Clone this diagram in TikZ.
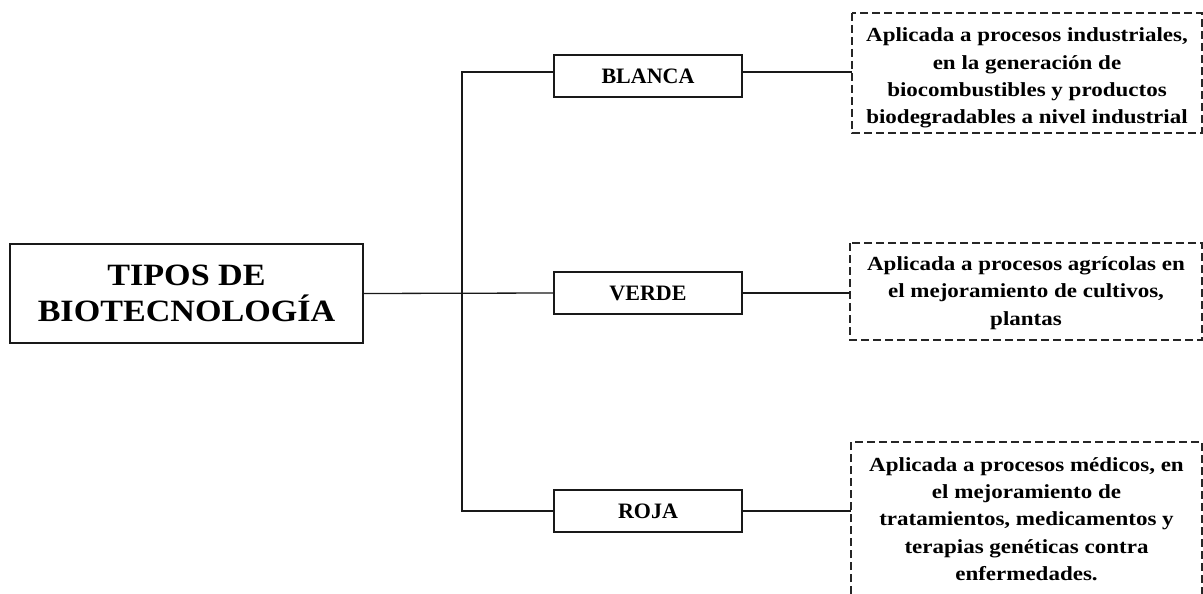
\documentclass[tikz,border=0pt]{standalone}
\usepackage{fontspec}
\setmainfont{Liberation Serif}
\newfontfamily\titlefont{Liberation Serif}[FakeStretch=1.1]
\newfontfamily\descfont{Liberation Serif}[FakeStretch=1.15]
\begin{document}
\begin{tikzpicture}[x=1pt,y=-1pt,
  mainbox/.style={draw=black!90, line width=1.3pt, minimum width=353pt, minimum height=99pt, align=center, inner sep=0pt, font=\titlefont\bfseries\fontsize{31}{36}\selectfont},
  typebox/.style={draw=black!90, line width=1.3pt, minimum width=188pt, minimum height=42pt, inner sep=0pt, font=\bfseries\fontsize{22}{26}\selectfont},
  desctext/.style={align=center, inner sep=0pt, font=\descfont\bfseries\fontsize{20}{27.2}\selectfont},
  descedge/.style={draw=black!85, dash pattern=on 8pt off 4pt, line width=1.1pt},
  conn/.style={draw=black!90, line width=1.3pt}]
\useasboundingbox (0,0) rectangle (1203,594);
\fill[white] (0,0) rectangle (1203,594);
\node[mainbox] (main) at (186.5,293.5) {TIPOS DE\\BIOTECNOLOGÍA};
\node[typebox] (blanca) at (648,76) {BLANCA};
\node[typebox] (verde) at (648,293) {VERDE};
\node[typebox] (roja) at (648,511) {ROJA};
% description boxes (dashed frames)
\coordinate (d1tl) at (852,13);
\coordinate (d1br) at (1202,133);
\coordinate (d2tl) at (850,243);
\coordinate (d2br) at (1202,340);
\coordinate (d3tl) at (851,442);
\coordinate (d3tr) at (1202,442);
\coordinate (d3bl) at (851,594);
\coordinate (d3br) at (1202,594);
\draw[descedge] (d1tl) rectangle (d1br);
\draw[descedge] (d2tl) rectangle (d2br);
\draw[descedge] (d3bl) -- (d3tl) -- (d3tr) -- (d3br);
\node[desctext] (d1) at (1027,78) {Aplicada a procesos industriales,\\en la generación de\\biocombustibles y productos\\biodegradables a nivel industrial};
\node[desctext] (d2) at (1026,293) {Aplicada a procesos agrícolas en\\el mejoramiento de cultivos,\\plantas};
\node[desctext] (d3) at (1026.5,519) {Aplicada a procesos médicos, en\\el mejoramiento de\\tratamientos, medicamentos y\\terapias genéticas contra\\enfermedades.};
% connectors
\coordinate (tb) at (462,72);
\coordinate (tr) at (462,511);
\draw[conn] (main.east) -- (verde.west);
\draw[conn] (blanca.west |- tb) -- (tb) -- (tr) -- (roja.west);
\draw[conn] (blanca.east |- tb) -- (d1tl |- tb);
\draw[conn] (verde.east) -- (d2tl |- verde.east);
\draw[conn] (roja.east) -- (d3tl |- roja.east);
\end{tikzpicture}
\end{document}
